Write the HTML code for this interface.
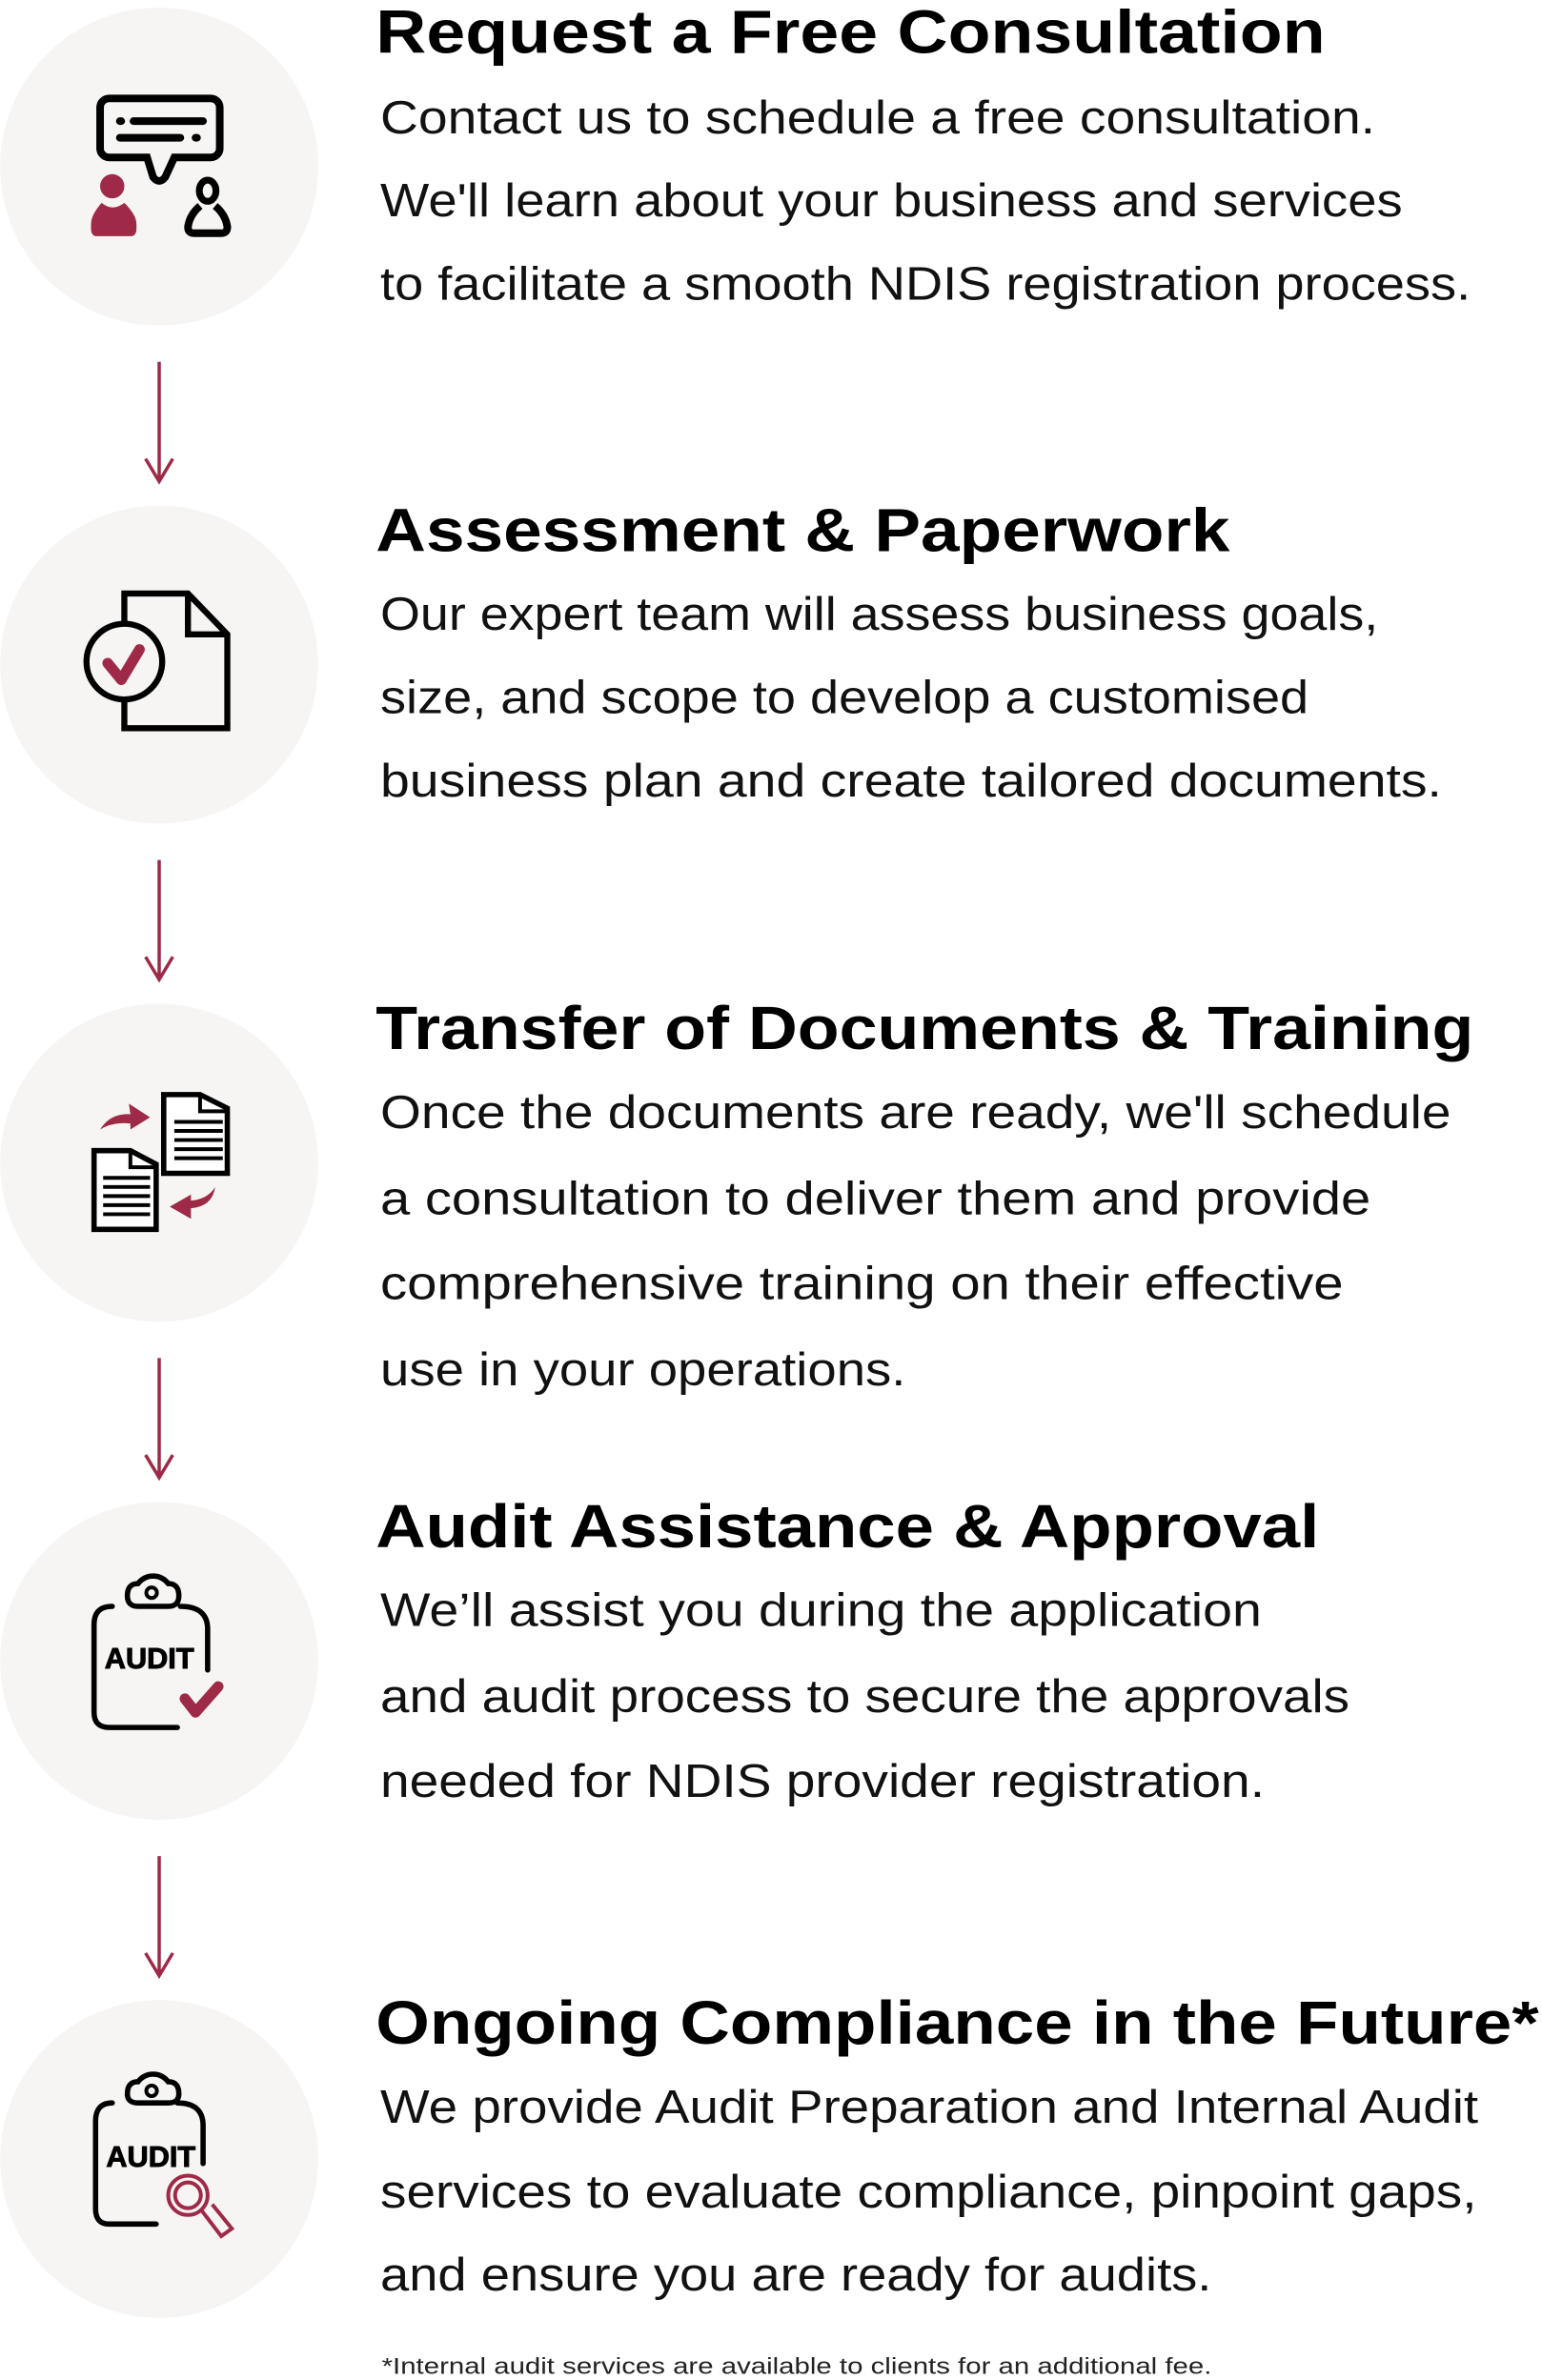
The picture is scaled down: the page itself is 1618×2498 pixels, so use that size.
<!DOCTYPE html>
<html><head><meta charset="utf-8"><style>
html,body{margin:0;padding:0;background:#fff}
svg{display:block}
.h{font-family:"Liberation Sans",sans-serif;font-weight:bold;font-size:40px;fill:#000}
.b{font-family:"Liberation Sans",sans-serif;font-size:31px;fill:#111}
.f{font-family:"Liberation Sans",sans-serif;font-size:15px;fill:#222}
</style></head><body>
<svg width="1618" height="2498" viewBox="0 0 1018 1572" xmlns="http://www.w3.org/2000/svg">
<g fill="#f6f5f3">
<circle cx="105" cy="110" r="105"/><circle cx="105" cy="439" r="105"/><circle cx="105" cy="768" r="105"/><circle cx="105" cy="1097" r="105"/><circle cx="105" cy="1426" r="105"/>
</g>
<g stroke="#9e2a47" stroke-width="2.2" fill="none">
<path d="M105 239V318M96 303L105 318L114 303"/>
<path d="M105 568V647M96 632L105 647L114 632"/>
<path d="M105 897V976M96 961L105 976L114 961"/>
<path d="M105 1226V1305M96 1290L105 1305L114 1290"/>
</g>
<!-- icon 1 -->
<g>
<path d="M72 65H139a6 6 0 0 1 6 6V98a6 6 0 0 1 -6 6H115L109 117Q105 122 101 117L97 104H72a6 6 0 0 1 -6 -6V71a6 6 0 0 1 6 -6Z" fill="none" stroke="#000" stroke-width="5"/>
<g stroke="#000" stroke-width="5" stroke-linecap="round"><path d="M79 80h1M88 80H134M79 91H119M129 91h1"/></g>
<circle cx="74" cy="123" r="8" fill="#9e2a47"/>
<path d="M67 134Q74 140 82 134Q90 142 90 148V151Q90 156 86 156H64Q60 156 60 151V148Q60 142 67 134Z" fill="#9e2a47"/>
<ellipse cx="137" cy="126" rx="5.5" ry="7" fill="none" stroke="#000" stroke-width="4.5"/>
<path d="M132 136Q125 142 124 150Q124 154 128 154H146Q150 154 150 150Q149 142 142 136" fill="none" stroke="#000" stroke-width="5"/>
</g>
<!-- icon 2 -->
<g fill="none" stroke="#000" stroke-width="4">
<path d="M82 412V392H124L150 419V481H82V462"/>
<path d="M124 392V419H150"/>
<circle cx="82" cy="437" r="25" fill="#f6f5f3"/>
<path d="M71 438L80 449L92 429" stroke="#9e2a47" stroke-width="7" stroke-linecap="round" stroke-linejoin="round"/>
</g>
<!-- icon 3 -->
<g>
<path d="M108 723H132L150 732V775H108Z" fill="#fff" stroke="#000" stroke-width="3.5"/>
<path d="M132 723V734H150" fill="none" stroke="#000" stroke-width="2.5"/>
<g stroke="#000" stroke-width="2.5"><path d="M115 741H147M115 747H147M115 753H147M115 759H147M115 765H147"/></g>
<path d="M62 760H86L103 769V812H62Z" fill="#fff" stroke="#000" stroke-width="3.5"/>
<path d="M86 760V771H103" fill="none" stroke="#000" stroke-width="2.5"/>
<g stroke="#000" stroke-width="2.5"><path d="M68 778H99M68 784H99M68 790H99M68 796H99M68 802H99"/></g>
<path d="M66 746Q73 735 86 736L85 729L99 738L86 746L86 742Q74 741 66 746Z" fill="#9e2a47"/>
<path d="M142 784Q140 797 126 798L126 805L112 797L126 789L126 793Q137 792 142 784Z" fill="#9e2a47"/>
</g>
<!-- icon 4 -->
<g fill="none" stroke="#000" stroke-width="3.5" stroke-linecap="round">
<path d="M119 1061Q137 1061 137 1076V1103M117 1141H72Q62 1141 62 1131V1073Q62 1061 74 1061"/>
<path d="M84 1054Q84 1046 91 1046Q95 1041 101 1041Q107 1041 111 1046Q118 1046 118 1054Q118 1061 111 1061H91Q84 1061 84 1054Z"/>
<circle cx="100" cy="1052" r="3.5" stroke-width="2.5"/>
<path d="M122 1122L129 1131L144 1114" stroke="#9e2a47" stroke-width="7" stroke-linejoin="round"/>
</g>
<text x="69" y="1102" font-family="Liberation Sans,sans-serif" font-weight="bold" font-size="19" textLength="59" lengthAdjust="spacingAndGlyphs" stroke="#000" stroke-width="0.6">AUDIT</text>
<!-- icon 5 -->
<g fill="none" stroke="#000" stroke-width="3.5" stroke-linecap="round">
<path d="M117 1389Q134 1389 134 1404V1429M103 1469H72Q63 1469 63 1459V1401Q63 1389 74 1389"/>
<path d="M84 1383Q84 1375 91 1375Q95 1370 101 1370Q107 1370 111 1375Q118 1375 118 1383Q118 1389 111 1389H91Q84 1389 84 1383Z"/>
<circle cx="100" cy="1381" r="3.5" stroke-width="2.5"/>
</g>
<text x="70" y="1431" font-family="Liberation Sans,sans-serif" font-weight="bold" font-size="19" textLength="59" lengthAdjust="spacingAndGlyphs" stroke="#000" stroke-width="0.6">AUDIT</text>
<g fill="none" stroke="#9e2a47" stroke-width="2.5">
<circle cx="124" cy="1450" r="13" fill="#f6f5f3"/><circle cx="124" cy="1450" r="8.5"/>
<path d="M133 1460L146 1477L153 1472L140 1456"/>
</g>
<!-- texts -->
<text class="h" x="248" y="35" textLength="627" lengthAdjust="spacingAndGlyphs">Request a Free Consultation</text>
<text class="b" x="251" y="88" textLength="657" lengthAdjust="spacingAndGlyphs">Contact us to schedule a free consultation.</text>
<text class="b" x="251" y="143" textLength="675" lengthAdjust="spacingAndGlyphs">We'll learn about your business and services</text>
<text class="b" x="251" y="198" textLength="720" lengthAdjust="spacingAndGlyphs">to facilitate a smooth NDIS registration process.</text>

<text class="h" x="248" y="364" textLength="564" lengthAdjust="spacingAndGlyphs">Assessment &amp; Paperwork</text>
<text class="b" x="251" y="416" textLength="659" lengthAdjust="spacingAndGlyphs">Our expert team will assess business goals,</text>
<text class="b" x="251" y="471" textLength="613" lengthAdjust="spacingAndGlyphs">size, and scope to develop a customised</text>
<text class="b" x="251" y="526" textLength="701" lengthAdjust="spacingAndGlyphs">business plan and create tailored documents.</text>

<text class="h" x="248" y="693" textLength="725" lengthAdjust="spacingAndGlyphs">Transfer of Documents &amp; Training</text>
<text class="b" x="251" y="745" textLength="707" lengthAdjust="spacingAndGlyphs">Once the documents are ready, we'll schedule</text>
<text class="b" x="251" y="802" textLength="654" lengthAdjust="spacingAndGlyphs">a consultation to deliver them and provide</text>
<text class="b" x="251" y="858" textLength="636" lengthAdjust="spacingAndGlyphs">comprehensive training on their effective</text>
<text class="b" x="251" y="915" textLength="347" lengthAdjust="spacingAndGlyphs">use in your operations.</text>

<text class="h" x="248" y="1022" textLength="623" lengthAdjust="spacingAndGlyphs">Audit Assistance &amp; Approval</text>
<text class="b" x="251" y="1074" textLength="582" lengthAdjust="spacingAndGlyphs">We’ll assist you during the application</text>
<text class="b" x="251" y="1131" textLength="640" lengthAdjust="spacingAndGlyphs">and audit process to secure the approvals</text>
<text class="b" x="251" y="1187" textLength="584" lengthAdjust="spacingAndGlyphs">needed for NDIS provider registration.</text>

<text class="h" x="248" y="1350" textLength="768" lengthAdjust="spacingAndGlyphs">Ongoing Compliance in the Future*</text>
<text class="b" x="251" y="1402" textLength="725" lengthAdjust="spacingAndGlyphs">We provide Audit Preparation and Internal Audit</text>
<text class="b" x="251" y="1458" textLength="724" lengthAdjust="spacingAndGlyphs">services to evaluate compliance, pinpoint gaps,</text>
<text class="b" x="251" y="1513" textLength="549" lengthAdjust="spacingAndGlyphs">and ensure you are ready for audits.</text>
<text class="f" x="252" y="1568" textLength="548" lengthAdjust="spacingAndGlyphs">*Internal audit services are available to clients for an additional fee.</text>
</svg>
</body></html>
